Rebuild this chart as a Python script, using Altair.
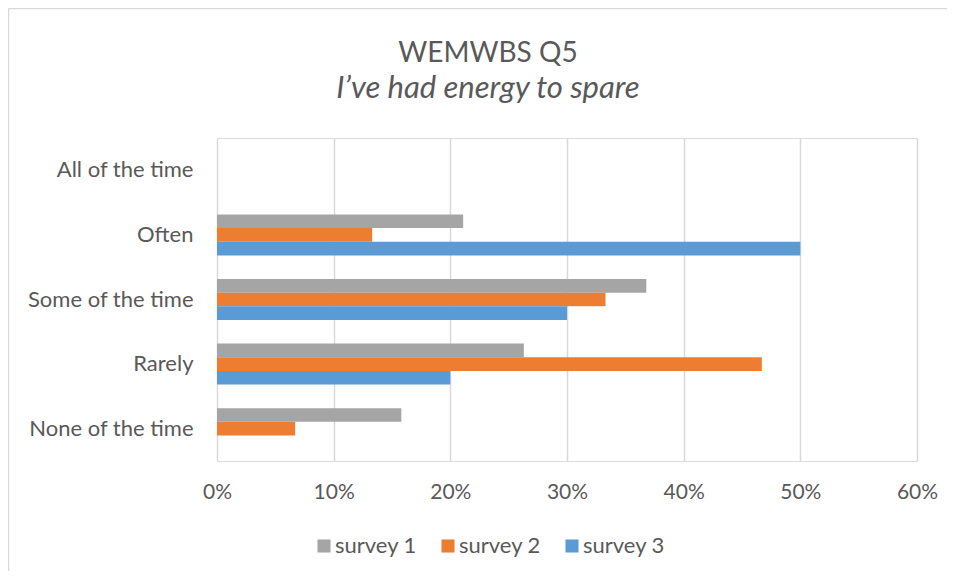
import altair as alt
import pandas as pd

categories = ["All of the time", "Often", "Some of the time", "Rarely", "None of the time"]
surveys = ["survey 1", "survey 2", "survey 3"]
survey1 = [0.0, 0.211, 0.368, 0.263, 0.158]
survey2 = [0.0, 0.133, 0.333, 0.467, 0.067]
survey3 = [0.0, 0.50, 0.30, 0.20, 0.0]
colors = ["#A5A5A5", "#ED7D31", "#5B9BD5"]
x_ticks = [0, 0.1, 0.2, 0.3, 0.4, 0.5, 0.6]

rows = []
for s, vals in zip(surveys, [survey1, survey2, survey3]):
    for c, v in zip(categories, vals):
        rows.append({"category": c, "survey": s, "value": v})
df = pd.DataFrame(rows)

FONT = "Lato"
TXT = "#595959"

bars = alt.Chart(df).mark_bar().encode(
    y=alt.Y("category:N", sort=categories,
            scale=alt.Scale(paddingInner=0.365, paddingOuter=0.1825),
            axis=alt.Axis(title=None, ticks=False, domain=False, grid=False,
                          labelFontSize=22, labelFont=FONT, labelColor=TXT,
                          labelPadding=24)),
    yOffset=alt.YOffset("survey:N", sort=surveys,
                        scale=alt.Scale(paddingInner=0, paddingOuter=0)),
    x=alt.X("value:Q", scale=alt.Scale(domain=[0, 0.6], nice=False),
            axis=alt.Axis(title=None, format=".0%", values=x_ticks, grid=True,
                          gridColor="#D9D9D9", gridWidth=1.5, domain=False,
                          ticks=False, labelFontSize=21, labelFont=FONT,
                          labelColor=TXT, labelPadding=20, labelFlush=False)),
    color=alt.Color("survey:N", scale=alt.Scale(domain=surveys, range=colors),
                    legend=alt.Legend(title=None, orient="none", legendX=96,
                                      legendY=397, direction="horizontal",
                                      symbolType="square", symbolSize=170,
                                      symbolStrokeWidth=0, labelFontSize=22,
                                      labelFont=FONT, labelColor=TXT,
                                      labelOffset=0, columnPadding=20)),
)

one = pd.DataFrame({"b": [1]})
border_top = alt.Chart(one).mark_rule(color="#D9D9D9", strokeWidth=1.5).encode(
    x=alt.value(-208.5), x2=alt.value(740), y=alt.value(-129.5)
)
border_left = alt.Chart(one).mark_rule(color="#D9D9D9", strokeWidth=1.5).encode(
    x=alt.value(-208.5), y=alt.value(-129.5), y2=alt.value(460)
)

chart = alt.layer(border_top, border_left, bars).properties(
    width=700,
    height=323,
    autosize=alt.AutoSizeParams(type="none"),
    padding={"left": 209, "top": 130, "right": 30, "bottom": 110},
    title=alt.TitleParams(
        text="WEMWBS Q5",
        subtitle="I\u2019ve had energy to spare",
        font=FONT, fontSize=28, fontWeight="normal", color=TXT,
        subtitleFont=FONT, subtitleFontSize=31, subtitleFontStyle="italic",
        subtitleColor=TXT, anchor="middle", frame="group", dx=-79,
        offset=-96, subtitlePadding=6,
    ),
).configure_view(stroke=None).configure(background="white")

chart.save("out.html", embed_options={"renderer": "svg", "actions": False})
